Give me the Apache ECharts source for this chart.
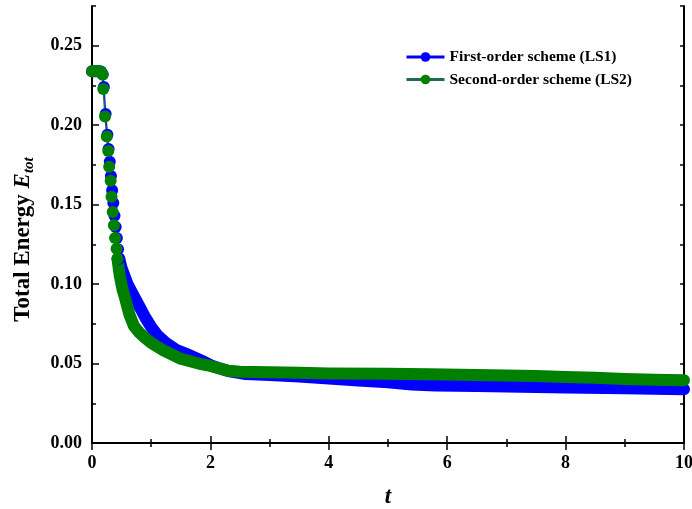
<!DOCTYPE html>
<html lang="en">
  <head>
    <meta charset="UTF-8" />
    <title>Total Energy</title>
    <script src="https://cdn.jsdelivr.net/npm/echarts@6/dist/echarts.min.js"></script>
    <style>
      html,
      body {
        margin: 0;
        padding: 0;
        background: #fff;
      }
      #main {
        width: 692px;
        height: 509px;
      }
    </style>
  </head>

  <body>
    <div id="main"></div>
  </body>
  <script>
    // data: [t, E_tot]
    var ls1Name = "First-order scheme (LS1)";
    var ls2Name = "Second-order scheme (LS2)";

    // early part, separate markers
    var ls1Head = [
      [0.0, 0.234], [0.03, 0.234], [0.06, 0.234], [0.09, 0.234], [0.12, 0.234],
      [0.15, 0.2338], [0.18, 0.232], [0.2, 0.224], [0.23, 0.207], [0.26, 0.194],
      [0.28, 0.185], [0.3, 0.177], [0.32, 0.168], [0.34, 0.159], [0.36, 0.151],
      [0.38, 0.143], [0.4, 0.136], [0.42, 0.129], [0.44, 0.122], [0.46, 0.116]
    ];
    var ls2Head = [
      [0.0, 0.234], [0.03, 0.234], [0.06, 0.234], [0.09, 0.234], [0.12, 0.234],
      [0.15, 0.2336], [0.18, 0.2318], [0.19, 0.2228], [0.22, 0.2054], [0.25, 0.1928],
      [0.275, 0.1837], [0.29, 0.1738], [0.315, 0.165], [0.33, 0.1549], [0.35, 0.1454],
      [0.37, 0.137], [0.39, 0.129], [0.415, 0.1223], [0.43, 0.116]
    ];

    // later part, dense markers merging into a band
    var ls1Tail = [
      [0.46, 0.116], [0.5, 0.11], [0.6, 0.1], [0.7, 0.093], [0.8, 0.086],
      [0.9, 0.079], [1.0, 0.073], [1.1, 0.068], [1.25, 0.063], [1.42, 0.0587],
      [1.6, 0.056], [1.75, 0.0535], [1.9, 0.051], [2.0, 0.049], [2.15, 0.047],
      [2.3, 0.0453], [2.6, 0.0434], [3.0, 0.0428], [3.5, 0.0419], [4.0, 0.0405],
      [4.5, 0.0393], [5.0, 0.0382], [5.4, 0.0368], [5.8, 0.0362], [6.5, 0.0358],
      [7.0, 0.0355], [8.0, 0.035], [9.0, 0.0345], [10.0, 0.0339]
    ];
    var ls2Tail = [
      [0.43, 0.116], [0.47, 0.105], [0.52, 0.096], [0.57, 0.0896], [0.63, 0.081],
      [0.71, 0.0735], [0.8, 0.0695], [0.9, 0.066], [1.0, 0.063], [1.2, 0.0585],
      [1.5, 0.053], [1.8, 0.05], [2.0, 0.0485], [2.3, 0.0455], [2.5, 0.0448],
      [3.5, 0.0442], [4.0, 0.0438], [5.0, 0.0435], [5.7, 0.0432], [6.5, 0.0428],
      [7.0, 0.0425], [7.5, 0.0421], [8.0, 0.0415], [8.5, 0.041], [9.0, 0.0402],
      [9.5, 0.0398], [10.0, 0.0395]
    ];

    var blue = "#0000ff";
    var green = "#008000";
    var serif = "Liberation Serif";

    var axisLine = { show: true, lineStyle: { color: "#000", width: 2 } };
    var majorTick = { show: true, inside: true, length: 7, lineStyle: { color: "#000", width: 1.5 } };
    var minorTick = { show: true, splitNumber: 2, length: 4, lineStyle: { color: "#000", width: 1.5 } };
    var labelStyle = { color: "#000", fontFamily: serif, fontWeight: "bold", fontSize: 18 };

    var chart = echarts.init(document.getElementById("main"));
    var option = {
      animation: false,
      backgroundColor: "#fff",
      grid: { left: 92, right: 8, top: 6, bottom: 66, containLabel: false, outerBoundsMode: "none" },
      legend: {
        data: [ls1Name, ls2Name],
        orient: "vertical",
        left: 400,
        top: 44,
        itemWidth: 38,
        itemHeight: 12,
        itemGap: 6.5,
        lineStyle: { width: 3 },
        textStyle: { color: "#000", fontFamily: serif, fontWeight: "bold", fontSize: 15.5 }
      },
      xAxis: [
        {
          type: "value",
          min: 0,
          max: 10,
          interval: 2,
          position: "bottom",
          axisLine: axisLine,
          axisTick: majorTick,
          minorTick: minorTick,
          splitLine: { show: false },
          axisLabel: Object.assign({ margin: 11 }, labelStyle),
          name: "t",
          nameLocation: "middle",
          nameGap: 43,
          nameTextStyle: { color: "#000", fontFamily: serif, fontWeight: "bold", fontStyle: "italic", fontSize: 23 }
        },
        {
          type: "value",
          min: 0,
          max: 10,
          interval: 2,
          position: "top",
          axisLine: axisLine,
          axisTick: majorTick,
          minorTick: minorTick,
          splitLine: { show: false },
          axisLabel: { show: false }
        }
      ],
      yAxis: [
        {
          type: "value",
          min: 0,
          max: 0.275,
          interval: 0.05,
          position: "left",
          axisLine: axisLine,
          axisTick: majorTick,
          splitLine: { show: false },
          axisLabel: Object.assign(
            {
              margin: 10,
              showMaxLabel: false,
              formatter: function (v) {
                return v.toFixed(2);
              }
            },
            labelStyle
          ),
          name: "{a|Total Energy }{e|E}{s|tot}",
          nameLocation: "middle",
          nameGap: 55,
          nameTextStyle: {
            padding: [0, 30, 0, 0],
            rich: {
              a: { color: "#000", fontFamily: serif, fontWeight: "bold", fontSize: 23 },
              e: { color: "#000", fontFamily: serif, fontWeight: "bold", fontStyle: "italic", fontSize: 23 },
              s: { color: "#000", fontFamily: serif, fontWeight: "bold", fontStyle: "italic", fontSize: 15, padding: [12, 0, 0, 0] }
            }
          }
        },
        {
          type: "value",
          min: 0,
          max: 0.275,
          interval: 0.025,
          position: "left",
          axisLine: { show: false },
          axisTick: { show: true, inside: true, length: 4, lineStyle: { color: "#000", width: 1.5 } },
          splitLine: { show: false },
          axisLabel: { show: false }
        },
        {
          type: "value",
          min: 0,
          max: 0.275,
          interval: 0.025,
          position: "right",
          axisLine: axisLine,
          axisTick: { show: true, inside: true, length: 4, lineStyle: { color: "#000", width: 1.5 } },
          splitLine: { show: false },
          axisLabel: { show: false }
        }
      ],
      series: [
        {
          name: ls1Name,
          type: "line",
          data: ls1Head,
          symbol: "circle",
          symbolSize: 12,
          itemStyle: { color: blue },
          lineStyle: { color: blue, width: 1.5 }
        },
        {
          name: ls1Name,
          type: "line",
          data: ls1Tail,
          symbol: "none",
          itemStyle: { color: blue },
          lineStyle: { color: blue, width: 12, cap: "round", join: "round" }
        },
        {
          name: ls2Name,
          type: "line",
          data: ls2Head,
          symbol: "circle",
          symbolSize: 12,
          itemStyle: { color: green },
          lineStyle: { color: "#1f6a55", width: 1.5 }
        },
        {
          name: ls2Name,
          type: "line",
          data: ls2Tail,
          symbol: "none",
          itemStyle: { color: green },
          lineStyle: { color: green, width: 12, cap: "round", join: "round" }
        }
      ]
    };
    chart.setOption(option);
  </script>
</html>
